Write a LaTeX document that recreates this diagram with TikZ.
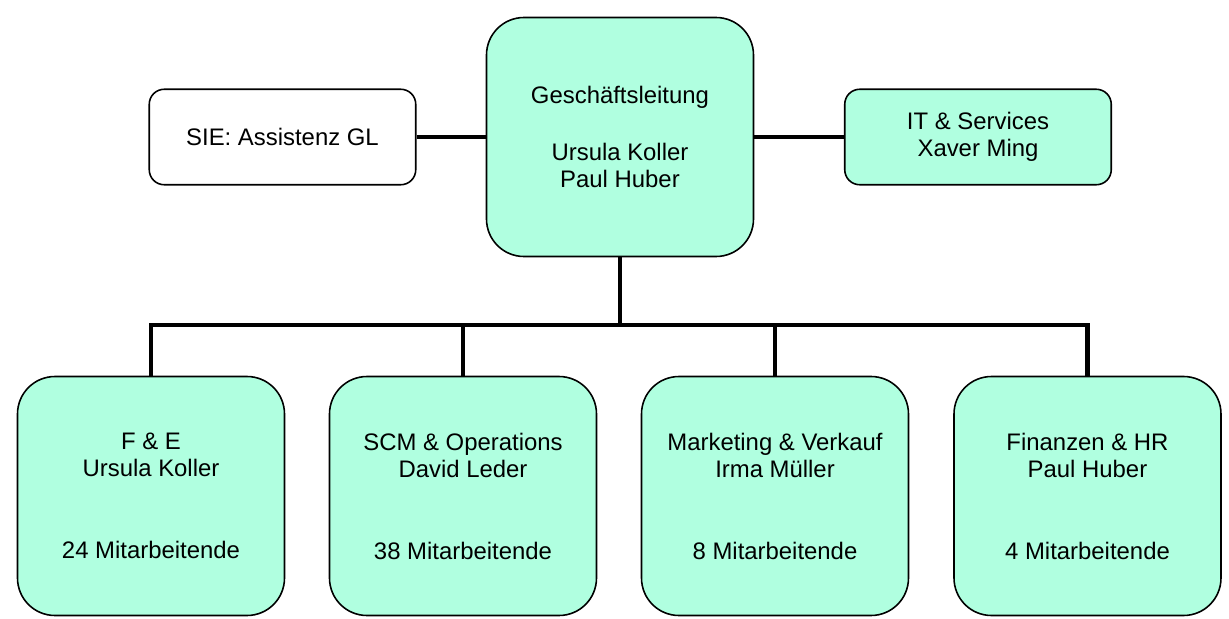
\documentclass[tikz,border=0pt]{standalone}
\usepackage{fontspec}
\setmainfont{Liberation Sans}
\definecolor{mint}{RGB}{176,255,224}
\tikzset{
    unit/.style={draw=black, line width=0.9pt, fill=mint, align=center,
        font=\fontsize{13.6pt}{15.5pt}\selectfont, inner sep=0pt},
    bigunit/.style={unit, rounded corners=0.75cm, minimum width=5.34cm, minimum height=4.78cm},
    smallunit/.style={unit, rounded corners=0.3cm, minimum width=5.33cm, minimum height=1.91cm},
    link/.style={line width=2.8pt}
}
\newcommand{\staffnote}[3]{#1\\#2\\[31pt]#3}
\begin{document}
\begin{tikzpicture}
    \useasboundingbox (0,0) rectangle (24.58,-12.38);

    % Geschaeftsleitung and staff units
    \node[bigunit] (gl) at (12.40,-2.74) {Geschäftsleitung\\[17pt]Ursula Koller\\Paul Huber};
    \node[smallunit, fill=white] (sie) at (5.65,-2.74) {SIE: Assistenz GL};
    \node[smallunit] (it) at (19.56,-2.74) {IT \& Services\\Xaver Ming};
    \draw[link] (sie) -- (gl);
    \draw[link] (gl) -- (it);

    % Departments, hanging from one bus line
    \coordinate (bus) at (12.40,-6.50);
    \draw[link] (gl) -- (bus);
    \foreach \n/\x/\t/\h/\m in {fe/3.02/F \& E/Ursula Koller/24,
                                scm/9.26/SCM \& Operations/David Leder/38,
                                mv/15.50/Marketing \& Verkauf/Irma Müller/8,
                                fhr/21.75/Finanzen \& HR/Paul Huber/4} {
            \node[bigunit] (\n) at (\x,-9.92) {\staffnote{\t}{\h}{\m~Mitarbeitende}};
            \draw[link] (bus) -| (\n);
        }
\end{tikzpicture}
\end{document}
